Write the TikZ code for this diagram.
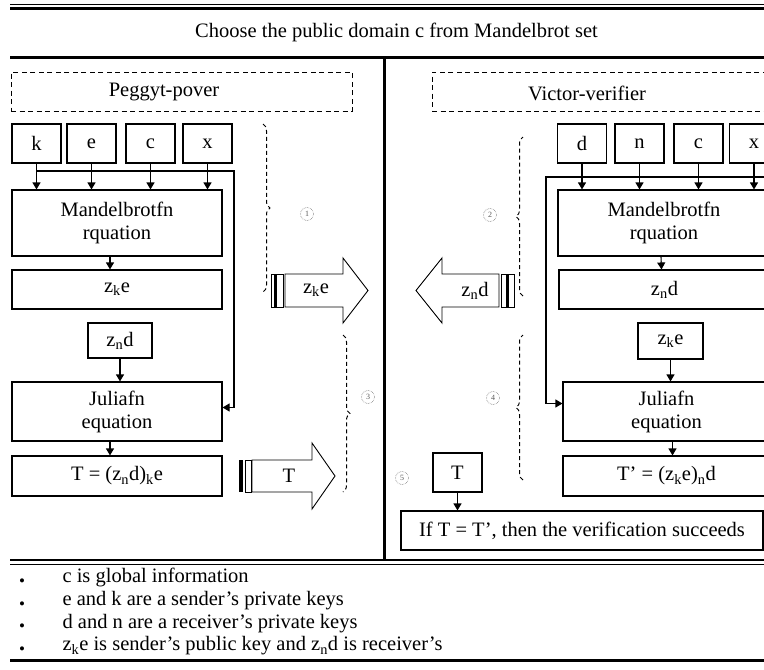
\documentclass[tikz,border=0pt]{standalone}
\usepackage{fontspec}
\setmainfont{Liberation Serif}
\usetikzlibrary{arrows.meta,decorations.pathreplacing,calc}
\begin{document}
\begin{tikzpicture}[x=1pt,y=-1pt,
 every node/.style={font=\fontsize{20.5}{23}\selectfont},
 bx/.style={draw,line width=1.1pt,inner sep=0pt,align=center},
 dbx/.style={draw,dash pattern=on 5pt off 3.5pt,line width=1pt,inner sep=0pt},
 arr/.style={line width=1.1pt,-{Triangle[length=7pt,width=8pt]}},
 ln/.style={line width=1.1pt},
 brc/.style={draw=black,line width=1pt,dash pattern=on 4pt off 3pt,decorate,decoration={brace,amplitude=7pt}},
 circ/.style={circle,draw=gray,densely dotted,line width=0.6pt,minimum size=13pt,inner sep=0pt,font=\fontsize{8}{8}\selectfont,text=gray!70!black},
 blk/.style={draw,line width=0.9pt,fill=white},
 bul/.style={font=\fontsize{17}{17}\selectfont},
 itm/.style={anchor=west}
]
\useasboundingbox (0,0) rectangle (764,670);
\clip (0,0) rectangle (764,670);
\fill[white] (0,0) rectangle (764,670);

% frame lines
\draw[line width=1pt] (10,4) -- (764,4);
\draw[line width=2.5pt] (10,8.5) -- (764,8.5);
\node (title) at (396.5,32) {Choose the public domain c from Mandelbrot set};
\draw[line width=3pt] (10,57) -- (764,57);
\draw[line width=3pt] (384,57) -- (384,560);
\draw[line width=2pt] (10,560) -- (764,560);
\draw[line width=1.2pt] (10,564.5) -- (764,564.5);
\draw[line width=3pt] (10,660) -- (764,660);

% ---------------- left panel ----------------
\node[dbx,minimum width=341pt,minimum height=39pt] (pbox) at (181.5,91.5) {};
\node (ptxt) at (164,92) {Peggyt-pover};

\node[bx,minimum width=49pt,minimum height=39pt] (k) at (36.5,143.5) {k};
\node[bx,minimum width=49pt,minimum height=39pt] (e) at (91.5,143.5) {e};
\node[bx,minimum width=49pt,minimum height=39pt] (c) at (150.5,143.5) {c};
\node[bx,minimum width=49pt,minimum height=39pt] (x) at (207.5,143.5) {x};

\node[bx,minimum width=210pt,minimum height=66pt] (mand) at (117,223) {Mandelbrotfn\\rquation};
\node[bx,minimum width=210pt,minimum height=39pt] (zke) at (117,289.5) {z\textsubscript{k}e};
\node[bx,minimum width=64pt,minimum height=35pt] (znd) at (120,340.5) {z\textsubscript{n}d};
\node[bx,minimum width=210pt,minimum height=59pt] (jul) at (117,411.5) {Juliafn\\equation};
\node[bx,minimum width=210pt,minimum height=40pt] (tl) at (117,476) {T = (z\textsubscript{n}d)\textsubscript{k}e};

\draw[arr] (k.south) -- (k.south |- mand.north);
\draw[arr] (e.south) -- (e.south |- mand.north);
\draw[arr] (c.south) -- (c.south |- mand.north);
\draw[arr] (x.south) -- (x.south |- mand.north);
\coordinate (lbusR) at (234,171);
\draw[arr] (k.south |- lbusR) -- (lbusR) |- ([yshift=4pt]jul.east);
\draw[arr] ([xshift=-7pt]mand.south) -- ([xshift=-7pt]zke.north);
\draw[arr] (znd.south) -- (znd.south |- jul.north);
\draw[arr] ([xshift=-7pt]jul.south) -- ([xshift=-7pt]tl.north);

% block arrow z_k e
\draw[blk] (285,274) -- (343,274) -- (343,258) -- (368,290.5) -- (343,323) -- (343,307) -- (285,307) -- cycle;
\node (azke) at (316,290.5) {z\textsubscript{k}e};
\draw[line width=0.9pt] (271,274) rectangle (283,307);
\draw[line width=3pt] (275,274) -- (275,307);

% block arrow T
\draw[blk] (252,460) -- (312,460) -- (312,443) -- (335,476) -- (312,509) -- (312,492) -- (252,492) -- cycle;
\node (aT) at (289,476) {T};
\draw[line width=0.9pt] (245,460) rectangle (251,492);
\draw[line width=3.5pt] (241,460) -- (241,492);

% braces and step marks
\draw[brc] (263,124) -- (263,292);
\draw[brc] (343,335) -- (343,492);
\node[circ] (c1) at (307,214) {1};
\node[circ] (c3) at (368,397) {3};

% ---------------- right panel ----------------
\node[dbx,minimum width=348pt,minimum height=39pt] (vbox) at (606,91.5) {};
\node (vtxt) at (587,93) {Victor-verifier};

\node[bx,minimum width=49pt,minimum height=39pt] (d) at (582,143.5) {d};
\node[bx,minimum width=49pt,minimum height=39pt] (n) at (639.5,143.5) {n};
\node[bx,minimum width=49pt,minimum height=39pt] (rc) at (698.5,143.5) {c};
\node[bx,minimum width=49pt,minimum height=39pt] (rx) at (754,143.5) {x};

\node[bx,minimum width=212pt,minimum height=66pt] (rmand) at (664,223) {Mandelbrotfn\\rquation};
\node[bx,minimum width=211pt,minimum height=39pt] (rznd) at (664.5,289.5) {z\textsubscript{n}d};
\node[bx,minimum width=65pt,minimum height=36pt] (rzke) at (670.5,341) {z\textsubscript{k}e};
\node[bx,minimum width=207pt,minimum height=59pt] (rjul) at (666.5,411.5) {Juliafn\\equation};
\node[bx,minimum width=207pt,minimum height=40pt] (rtp) at (666.5,476) {T’ = (z\textsubscript{k}e)\textsubscript{n}d};
\node[bx,minimum width=49pt,minimum height=39pt] (rT) at (457.5,472.5) {T};
\node[bx,minimum width=362pt,minimum height=39pt] (verif) at (582,530.5) {If T = T’, then the verification succeeds};

\draw[arr] (d.south) -- (d.south |- rmand.north);
\draw[arr] (n.south) -- (n.south |- rmand.north);
\draw[arr] (rc.south) -- (rc.south |- rmand.north);
\draw[arr] (rx.south) -- (rx.south |- rmand.north);
\coordinate (rbus) at (546,177);
\coordinate (rbusE) at (770,177);
\draw[arr] (rbusE) -- (rbus) |- ([yshift=8pt]rjul.west);
\draw[arr] ([xshift=-3pt]rmand.south) -- ([xshift=-3pt]rznd.north);
\draw[arr] (rzke.south) -- (rzke.south |- rjul.north);
\draw[arr] ([xshift=6pt]rjul.south) -- ([xshift=6pt]rtp.north);
\draw[arr] (rT.south) -- (rT.south |- verif.north);

% block arrow z_n d (to the left)
\draw[blk] (499,274) -- (442,274) -- (442,258) -- (416,290.5) -- (442,323) -- (442,307) -- (499,307) -- cycle;
\node (aznd) at (475,290.5) {z\textsubscript{n}d};
\draw[line width=0.9pt] (501,274) rectangle (514,307);
\draw[line width=3pt] (507,274) -- (507,307);

\draw[brc] (523,296) -- (523,137);
\draw[brc] (523,480) -- (523,335);
\node[circ] (c2) at (490,215) {2};
\node[circ] (c4) at (493,398) {4};
\node[circ] (c5) at (402,478) {5};

% ---------------- notes ----------------
\node[bul] (b1) at (22,583) {•};
\node[bul] (b2) at (22,606) {•};
\node[bul] (b3) at (22,628) {•};
\node[bul] (b4) at (22,651) {•};
\node[itm] (l1) at (59,577) {c is global information};
\node[itm] (l2) at (59,601) {e and k are a sender’s private keys};
\node[itm] (l3) at (59,624) {d and n are a receiver’s private keys};
\node[itm] (l4) at (59,646) {z\textsubscript{k}e is sender’s public key and z\textsubscript{n}d is receiver’s};
\end{tikzpicture}
\end{document}
